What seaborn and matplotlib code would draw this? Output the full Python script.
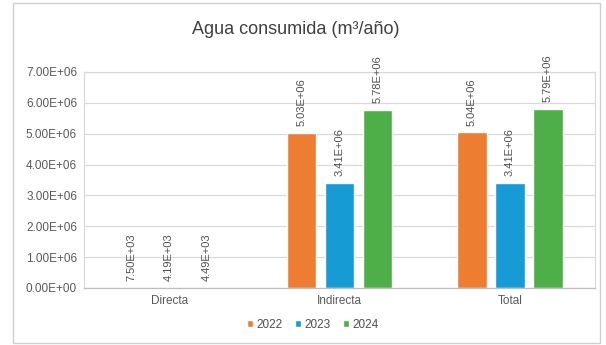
import pandas as pd
import matplotlib.pyplot as plt
import seaborn as sns
from matplotlib.patches import Rectangle

categories = ['Directa', 'Indirecta', 'Total']
years = ['2022', '2023', '2024']
v2022 = [7.50e3, 5.03e6, 5.04e6]
v2023 = [4.19e3, 3.41e6, 3.41e6]
v2024 = [4.49e3, 5.78e6, 5.79e6]
colors = ['#ED7D31', '#169BD5', '#4EAF48']

rows = []
for year, vals in zip(years, [v2022, v2023, v2024]):
    for cat, v in zip(categories, vals):
        rows.append({'cat': cat, 'year': year, 'value': v})
df = pd.DataFrame(rows)

sns.set_theme(style='white')
plt.rcParams['font.family'] = ['Liberation Sans', 'DejaVu Sans']

fig = plt.figure(figsize=(6.06, 3.45), dpi=100)
fig.patches.append(Rectangle((13 / 606, 1 - 343 / 345), 587 / 606, 340 / 345,
                             transform=fig.transFigure, fill=False,
                             edgecolor='#D0D0D0', linewidth=1.0))
ax = fig.add_axes([84 / 606, 1 - 288 / 345, 511 / 606, 216 / 345])

sns.barplot(data=df, x='cat', y='value', hue='year', palette=colors,
            width=0.67, gap=0.22, ax=ax, legend=True, saturation=1)

for cont in ax.containers:
    ax.bar_label(cont, labels=[f'{v:.2E}' for v in cont.datavalues],
                 rotation=90, padding=5, fontsize=8, color='#505050')

ax.set_ylim(0, 7e6)
ax.set_yticks([i * 1e6 for i in range(8)])
ax.set_yticklabels([f'{i * 1e6:.2E}' for i in range(8)])
ax.set_xlim(-0.5, 2.5)
ax.yaxis.grid(True, color='#D9D9D9', linewidth=0.9)
ax.set_axisbelow(True)
for s in ax.spines.values():
    s.set_color('#D9D9D9')
    s.set_linewidth(0.9)
ax.spines['bottom'].set_color('#BFBFBF')
ax.tick_params(axis='both', labelsize=8.5, colors='#595959', length=0, pad=5)
ax.set_xlabel('')
ax.set_ylabel('')

ax.legend(loc='center', bbox_to_anchor=(313 / 606, 1 - 325 / 345),
          bbox_transform=fig.transFigure, ncol=3, frameon=False,
          fontsize=8.5, handlelength=0.55, handleheight=0.55,
          handletextpad=0.3, columnspacing=1.0, labelcolor='#505050')

fig.text(296 / 606, 1 - 30 / 345, 'Agua consumida (m³/año)', ha='center',
         va='center', fontsize=13, color='#404040')

fig.savefig('out.png', dpi=100)
